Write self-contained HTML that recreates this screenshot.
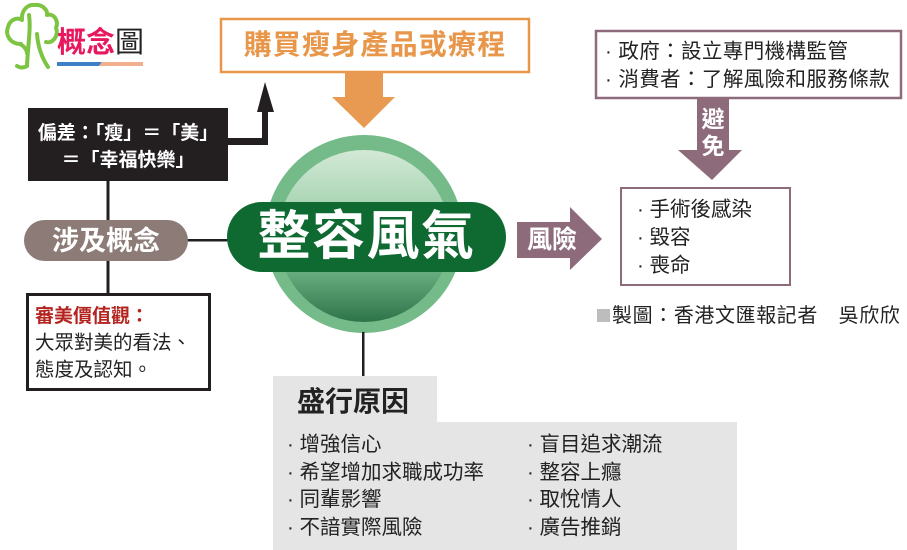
<!DOCTYPE html>
<html><head><meta charset="utf-8">
<style>
html,body{margin:0;padding:0;background:#fff;}
#c{position:relative;width:907px;height:550px;overflow:hidden;background:#fff;font-family:"Liberation Sans","Noto Sans CJK TC",sans-serif;}
.t{position:absolute;white-space:nowrap;}
svg{position:absolute;left:0;top:0;}
</style></head><body>
<div id="c">
<svg width="907" height="550" viewBox="0 0 907 550">
  <defs>
    <linearGradient id="g1" x1="0" y1="0" x2="0" y2="1">
      <stop offset="0" stop-color="#d3e9d6"/>
      <stop offset="0.45" stop-color="#98cda6"/>
      <stop offset="0.75" stop-color="#5fa577"/>
      <stop offset="1" stop-color="#2e7449"/>
    </linearGradient>
  </defs>
  <!-- tree logo -->
  <g fill="none" stroke="#7dc443" stroke-width="4" stroke-linecap="round" stroke-linejoin="round">
    <path d="M21 44 C10 44 5 35 8 27 C10 19 18 17 22 20 C21 10 28 4 35 5 C42 4 48 10 47 15 C54 13 59 21 56 28 C59 35 53 44 46 42"/>
    <path d="M29 15 C31 28 28 44 27 66"/>
    <path d="M20 44 C24 46 27 50 27 53"/>
    <path d="M37 34 C38 47 42 58 48 67"/>
    <path d="M27 66 C24 68 20 68 17 66"/>
  </g>
  <!-- logo underline -->
  <polygon points="57,62 102,62 99,66 57,66" fill="#3f7fc8"/>
  <polygon points="102,62 143,62 143,66 99,66" fill="#f3b08e"/>

  <!-- orange box -->
  <rect x="221" y="19" width="308" height="53" fill="#fff" stroke="#e8974a" stroke-width="2.5"/>
  <!-- orange arrow -->
  <polygon points="345,72 383,72 383,97 395,97 364,128 332,97 345,97" fill="#e89a52"/>

  <!-- black arrow connector -->
  <rect x="226" y="138" width="42" height="7" fill="#231f20"/>
  <rect x="262" y="110" width="6" height="35" fill="#231f20"/>
  <polygon points="257,112 274,112 265,82" fill="#231f20"/>
  <!-- black box -->
  <rect x="28" y="108" width="200" height="73" fill="#231f20"/>

  <!-- left connectors -->
  <rect x="106.5" y="181" width="3" height="40" fill="#231f20"/>
  <rect x="106.5" y="260" width="3" height="34" fill="#231f20"/>
  <rect x="186" y="239" width="44" height="2.5" fill="#231f20"/>

  <!-- pill 涉及概念 -->
  <rect x="24" y="220" width="164" height="41" rx="20.5" fill="#8c7b76"/>

  <!-- 審美價值觀 box -->
  <rect x="27.5" y="294.5" width="182" height="95" fill="#fff" stroke="#231f20" stroke-width="3"/>

  <!-- green circle -->
  <circle cx="364" cy="234" r="99" fill="#74bb89"/>
  <circle cx="364" cy="236" r="86" fill="url(#g1)"/>
  <!-- vertical line below circle -->
  <rect x="362" y="332" width="2.5" height="45" fill="#231f20"/>
  <!-- green pill -->
  <rect x="227" y="202" width="279" height="70" rx="35" fill="#0e6a30"/>

  <!-- gray panel -->
  <rect x="273" y="376" width="164" height="50" fill="#e5e5e5"/>
  <rect x="273" y="422" width="464" height="128" fill="#e5e5e5"/>

  <!-- risk arrow -->
  <polygon points="517,222 570,222 570,207 602,239 570,270 570,258 517,258" fill="#8d6b7b"/>
  <!-- risk box -->
  <rect x="621" y="188" width="169" height="97" fill="#fff" stroke="#8d6b7b" stroke-width="2"/>

  <!-- top right box -->
  <rect x="596" y="31" width="305" height="67" fill="#fff" stroke="#8d6b7b" stroke-width="2.5"/>
  <!-- avoid arrow -->
  <polygon points="697,98 729,98 729,150 742,150 712,180 678,150 697,150" fill="#8d6b7b"/>

  <!-- credit square -->
  <rect x="597" y="309" width="13" height="13" fill="#bdbdbd"/>
</svg>

<!-- logo text -->
<div class="t" style="left:57px;top:25px;font-size:29px;line-height:36px;font-weight:700;color:#e8185e;">概念<span style="color:#222;font-weight:400;">圖</span></div>

<!-- orange title -->
<div class="t" style="left:221px;width:308px;top:27px;text-align:center;font-size:28px;line-height:36px;font-weight:700;color:#e8974a;letter-spacing:1.2px;">購買瘦身產品或療程</div>

<!-- black box text -->
<div class="t" style="left:28px;width:200px;top:120px;text-align:center;font-size:19px;line-height:27px;font-weight:700;color:#fff;">偏差：「瘦」＝「美」<br>＝「幸福快樂」</div>

<!-- 涉及概念 -->
<div class="t" style="left:24px;width:164px;top:223px;text-align:center;font-size:27px;line-height:36px;font-weight:700;color:#fff;">涉及概念</div>

<!-- 審美價值觀 -->
<div class="t" style="left:35px;top:303px;font-size:19px;line-height:27px;font-weight:700;color:#b3241f;">審美價值觀：</div>
<div class="t" style="left:35px;top:330px;font-size:19.5px;line-height:27px;color:#222;">大眾對美的看法、<br>態度及認知。</div>

<!-- 整容風氣 -->
<div class="t" style="left:227px;width:279px;top:204px;text-align:center;font-size:53px;line-height:66px;font-weight:700;color:#fff;letter-spacing:1.5px;">整容風氣</div>

<!-- 盛行原因 -->
<div class="t" style="left:297px;top:384px;font-size:28px;line-height:36px;font-weight:700;color:#222;">盛行原因</div>
<div class="t" style="left:287px;top:431px;font-size:20.5px;line-height:27.5px;color:#222;">·&nbsp;增強信心<br>·&nbsp;希望增加求職成功率<br>·&nbsp;同輩影響<br>·&nbsp;不諳實際風險</div>
<div class="t" style="left:527px;top:431px;font-size:20.5px;line-height:27.5px;color:#222;">·&nbsp;盲目追求潮流<br>·&nbsp;整容上癮<br>·&nbsp;取悅情人<br>·&nbsp;廣告推銷</div>

<!-- 風險 -->
<div class="t" style="left:527px;top:224px;font-size:25px;line-height:32px;font-weight:700;color:#fff;">風險</div>

<!-- risk box items -->
<div class="t" style="left:637px;top:196px;font-size:20.5px;line-height:28px;color:#222;">·&nbsp;手術後感染<br>·&nbsp;毀容<br>·&nbsp;喪命</div>

<!-- credit -->
<div class="t" style="left:612px;top:302px;font-size:20px;line-height:28px;color:#222;letter-spacing:0.6px;">製圖：香港文匯報記者　吳欣欣</div>

<!-- top right items -->
<div class="t" style="left:605px;top:38px;font-size:20.5px;line-height:28px;color:#222;letter-spacing:0.4px;">·&nbsp;政府：設立專門機構監管<br>·&nbsp;消費者：了解風險和服務條款</div>

<!-- 避免 -->
<div class="t" style="left:697px;width:32px;top:106px;text-align:center;font-size:23px;line-height:27px;font-weight:700;color:#fff;">避<br>免</div>
</div>
</body></html>
